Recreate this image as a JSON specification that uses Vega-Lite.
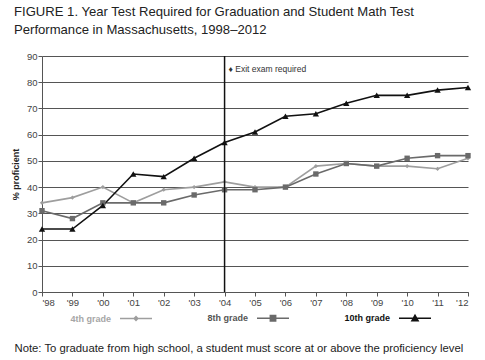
{
  "$schema": "https://vega.github.io/schema/vega-lite/v6.json",
  "width": 426,
  "height": 236,
  "autosize": {"type": "none"},
  "padding": {"left": 42, "top": 56, "right": 17, "bottom": 68},
  "background": "white",
  "title": {
    "text": ["FIGURE 1.  Year Test Required for Graduation and Student Math Test", "Performance in Massachusetts, 1998–2012"],
    "anchor": "start",
    "frame": "group",
    "dx": -28,
    "offset": 14,
    "font": "Liberation Sans",
    "fontSize": 13.1,
    "fontWeight": "normal",
    "lineHeight": 18,
    "color": "#222222"
  },
  "config": {
    "view": {"stroke": null},
    "font": "Liberation Sans",
    "axis": {"labelOverlap": false}
  },
  "resolve": {"legend": {"color": "independent"}},
  "datasets": {
    "scores": [
      {"year": 1998, "grade": "4th grade", "pct": 34},
      {"year": 1999, "grade": "4th grade", "pct": 36},
      {"year": 2000, "grade": "4th grade", "pct": 40},
      {"year": 2001, "grade": "4th grade", "pct": 34},
      {"year": 2002, "grade": "4th grade", "pct": 39},
      {"year": 2003, "grade": "4th grade", "pct": 40},
      {"year": 2004, "grade": "4th grade", "pct": 42},
      {"year": 2005, "grade": "4th grade", "pct": 40},
      {"year": 2006, "grade": "4th grade", "pct": 40},
      {"year": 2007, "grade": "4th grade", "pct": 48},
      {"year": 2008, "grade": "4th grade", "pct": 49},
      {"year": 2009, "grade": "4th grade", "pct": 48},
      {"year": 2010, "grade": "4th grade", "pct": 48},
      {"year": 2011, "grade": "4th grade", "pct": 47},
      {"year": 2012, "grade": "4th grade", "pct": 51},
      {"year": 1998, "grade": "8th grade", "pct": 31},
      {"year": 1999, "grade": "8th grade", "pct": 28},
      {"year": 2000, "grade": "8th grade", "pct": 34},
      {"year": 2001, "grade": "8th grade", "pct": 34},
      {"year": 2002, "grade": "8th grade", "pct": 34},
      {"year": 2003, "grade": "8th grade", "pct": 37},
      {"year": 2004, "grade": "8th grade", "pct": 39},
      {"year": 2005, "grade": "8th grade", "pct": 39},
      {"year": 2006, "grade": "8th grade", "pct": 40},
      {"year": 2007, "grade": "8th grade", "pct": 45},
      {"year": 2008, "grade": "8th grade", "pct": 49},
      {"year": 2009, "grade": "8th grade", "pct": 48},
      {"year": 2010, "grade": "8th grade", "pct": 51},
      {"year": 2011, "grade": "8th grade", "pct": 52},
      {"year": 2012, "grade": "8th grade", "pct": 52},
      {"year": 1998, "grade": "10th grade", "pct": 24},
      {"year": 1999, "grade": "10th grade", "pct": 24},
      {"year": 2000, "grade": "10th grade", "pct": 33},
      {"year": 2001, "grade": "10th grade", "pct": 45},
      {"year": 2002, "grade": "10th grade", "pct": 44},
      {"year": 2003, "grade": "10th grade", "pct": 51},
      {"year": 2004, "grade": "10th grade", "pct": 57},
      {"year": 2005, "grade": "10th grade", "pct": 61},
      {"year": 2006, "grade": "10th grade", "pct": 67},
      {"year": 2007, "grade": "10th grade", "pct": 68},
      {"year": 2008, "grade": "10th grade", "pct": 72},
      {"year": 2009, "grade": "10th grade", "pct": 75},
      {"year": 2010, "grade": "10th grade", "pct": 75},
      {"year": 2011, "grade": "10th grade", "pct": 77},
      {"year": 2012, "grade": "10th grade", "pct": 78}
    ],
    "event": [
      {"year": 2004, "pct": 85, "label": "♦ Exit exam required"}
    ]
  },
  "layer": [
    {
      "data": {"name": "scores"},
      "mark": {"type": "line", "strokeWidth": 1.6},
      "encoding": {
        "x": {
          "field": "year", "type": "quantitative",
          "scale": {"domain": [1998, 2012], "nice": false, "zero": false},
          "axis": {
            "values": [1998, 1999, 2000, 2001, 2002, 2003, 2004, 2005, 2006, 2007, 2008, 2009, 2010, 2011, 2012],
            "tickCount": 15,
            "labelExpr": "'\\'' + slice(format(datum.value, 'd'), 2)",
            "labelOverlap": false,
            "grid": false,
            "domainColor": "#555555",
            "tickColor": "#555555",
            "tickSize": 4,
            "labelColor": "#444444",
            "labelFontSize": 9.5,
            "labelPadding": 1,
            "title": "Note: To graduate from high school, a student must score at or above the proficiency level",
            "titleAnchor": "start",
            "titleX": -28,
            "titleY": 50,
            "titleBaseline": "top",
            "titleFont": "Liberation Sans",
            "titleFontSize": 11.3,
            "titleFontWeight": "normal",
            "titleColor": "#222222"
          }
        },
        "y": {
          "field": "pct", "type": "quantitative",
          "scale": {"domain": [0, 90], "nice": false},
          "axis": {
            "values": [0, 10, 20, 30, 40, 50, 60, 70, 80, 90],
            "tickCount": 10,
            "labelOverlap": false,
            "grid": true,
            "gridColor": "#555555",
            "gridWidth": 1,
            "domainColor": "#555555",
            "tickColor": "#555555",
            "tickSize": 4,
            "labelColor": "#444444",
            "labelFontSize": 9.5,
            "labelPadding": 1,
            "title": "% proficient",
            "titleFontSize": 9,
            "titleFontWeight": "bold",
            "titleColor": "#222222",
            "titlePadding": 6
          }
        },
        "color": {
          "field": "grade", "type": "nominal",
          "scale": {"domain": ["4th grade", "8th grade", "10th grade"], "range": ["#9e9e9e", "#6a6a6a", "#111111"]},
          "legend": {
            "orient": "none",
            "legendX": 77,
            "legendY": 245,
            "direction": "horizontal",
            "columns": 3,
            "columnPadding": 52,
            "padding": 0,
            "title": null,
            "symbolType": "stroke",
            "symbolSize": 1024,
            "symbolStrokeWidth": 1.4,
            "labelAlign": "right",
            "labelOffset": -42,
            "labelFontSize": 9,
            "labelFontWeight": "bold",
            "encode": {
              "labels": {"update": {"fill": {"signal": "datum.label === '4th grade' ? '#a6a6a6' : datum.label === '8th grade' ? '#555555' : '#111111'"}}},
              "symbols": {"update": {
                "shape": {"signal": "datum.label === '4th grade' ? 'M-1,0H1M-0.12,0L0,-0.13L0.12,0L0,0.13Z' : datum.label === '8th grade' ? 'M-1,0H1M-0.17,-0.17H0.17V0.17H-0.17Z' : 'M-1,0H1M-0.2,0.16L0,-0.2L0.2,0.16Z'"},
                "fill": {"signal": "datum.label === '4th grade' ? '#9e9e9e' : datum.label === '8th grade' ? '#6a6a6a' : '#111111'"},
                "stroke": {"signal": "datum.label === '4th grade' ? '#9e9e9e' : datum.label === '8th grade' ? '#6a6a6a' : '#111111'"},
                "strokeWidth": {"value": 1.4},
                "fillOpacity": {"value": 1},
                "strokeOpacity": {"value": 1},
                "opacity": {"value": 1}
              }}
            }
          }
        }
      }
    },
    {
      "data": {"name": "scores"},
      "mark": {"type": "point", "filled": true, "opacity": 1},
      "encoding": {
        "x": {"field": "year", "type": "quantitative", "axis": {"values": [1998, 1999, 2000, 2001, 2002, 2003, 2004, 2005, 2006, 2007, 2008, 2009, 2010, 2011, 2012], "tickCount": 15}},
        "y": {"field": "pct", "type": "quantitative", "axis": {"values": [0, 10, 20, 30, 40, 50, 60, 70, 80, 90], "tickCount": 10}},
        "color": {"field": "grade", "type": "nominal", "legend": null},
        "shape": {
          "field": "grade", "type": "nominal",
          "scale": {"domain": ["4th grade", "8th grade", "10th grade"], "range": ["diamond", "square", "triangle-up"]},
          "legend": null
        },
        "size": {
          "field": "grade", "type": "nominal",
          "scale": {"domain": ["4th grade", "8th grade", "10th grade"], "range": [18, 40, 40]},
          "legend": null
        }
      }
    },
    {
      "data": {"name": "event"},
      "mark": {"type": "rule", "color": "#111111", "strokeWidth": 1.5},
      "encoding": {
        "x": {"field": "year", "type": "quantitative", "axis": {"values": [1998, 1999, 2000, 2001, 2002, 2003, 2004, 2005, 2006, 2007, 2008, 2009, 2010, 2011, 2012], "tickCount": 15}}
      }
    },
    {
      "data": {"name": "event"},
      "mark": {"type": "text", "align": "left", "baseline": "middle", "dx": 4, "fontSize": 8.5, "color": "#333333", "font": "Liberation Sans"},
      "encoding": {
        "x": {"field": "year", "type": "quantitative", "axis": {"values": [1998, 1999, 2000, 2001, 2002, 2003, 2004, 2005, 2006, 2007, 2008, 2009, 2010, 2011, 2012], "tickCount": 15}},
        "y": {"field": "pct", "type": "quantitative", "axis": {"values": [0, 10, 20, 30, 40, 50, 60, 70, 80, 90], "tickCount": 10}},
        "text": {"field": "label"}
      }
    }
  ]
}
